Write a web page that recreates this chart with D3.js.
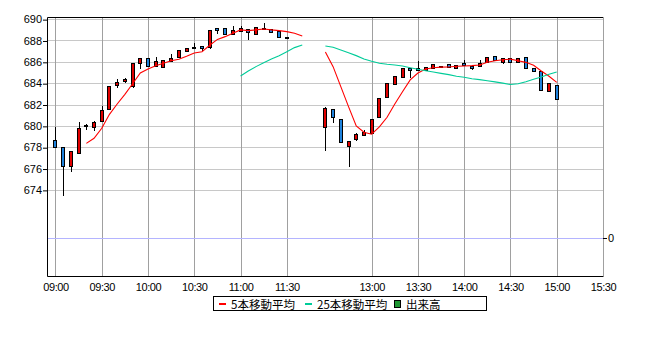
<!DOCTYPE html>
<html>
<head>
<meta charset="utf-8">
<script src="https://cdn.jsdelivr.net/npm/d3@7"></script>
<style>
    body { margin: 0; background: #fff; }
    svg { display: block; font-family: "Liberation Sans", Arial, sans-serif; }
    .legend text { font-family: "Noto Sans CJK JP", sans-serif; font-size: 11.5px; }
</style>
</head>
<body>
<div id="chart"></div>
<script>
// 5 minute bars (11:35 / 11:40 only carry the moving averages)
const times = [
    '09:00', '09:05', '09:10', '09:15', '09:20', '09:25', '09:30', '09:35', '09:40', '09:45', '09:50', '09:55',
    '10:00', '10:05', '10:10', '10:15', '10:20', '10:25', '10:30', '10:35', '10:40', '10:45', '10:50', '10:55',
    '11:00', '11:05', '11:10', '11:15', '11:20', '11:25', '11:30', '11:35', '11:40',
    '12:30', '12:35', '12:40', '12:45', '12:50', '12:55',
    '13:00', '13:05', '13:10', '13:15', '13:20', '13:25', '13:30', '13:35', '13:40', '13:45', '13:50', '13:55',
    '14:00', '14:05', '14:10', '14:15', '14:20', '14:25', '14:30', '14:35', '14:40', '14:45', '14:50', '14:55',
    '15:00'
]
const open = [
    678.65, 678.0, 676.25, 677.5, 679.95, 679.9, 680.5, 681.55, 683.8, 684.2, 683.75, 685.85,
    686.35, 685.65, 685.55, 686.05, 686.45, 687.0, 687.35, 687.45, 687.4, 689.15, 689.15, 688.6,
    688.9, 689.05, 688.6, 689.1, 689.05, 688.85, 688.3, null, null,
    679.85, 681.6, 680.65, 678.15, 678.75, 679.15,
    679.3, 680.85, 682.7, 683.95, 684.55, 685.4, 685.4, 685.2, 685.45, 685.65, 685.75, 685.45,
    685.9, 685.65, 685.6, 685.95, 686.5, 686.0, 686.4, 686.0, 686.45, 685.4, 685.15, 683.25,
    683.8
]
const high = [
    679.9, 678.0, 677.65, 680.35, 680.15, 680.5, 681.9, 683.7, 684.4, 684.45, 685.85, 686.4,
    686.35, 686.45, 686.2, 686.7, 687.1, 687.25, 687.75, 687.45, 689.0, 689.15, 689.15, 689.35,
    689.35, 689.05, 689.25, 689.65, 689.05, 688.85, 688.3, null, null,
    681.8, 681.6, 680.65, 678.55, 679.3, 679.6,
    680.65, 682.6, 684.0, 684.65, 685.4, 685.45, 686.1, 685.5, 685.8, 685.65, 685.75, 685.7,
    686.15, 685.65, 686.2, 686.45, 686.5, 686.4, 686.4, 686.4, 686.45, 685.4, 685.15, 684.0,
    683.8
]
const low = [
    678.0, 673.55, 675.8, 677.5, 679.7, 679.6, 680.5, 681.55, 683.65, 684.1, 683.6, 685.45,
    685.65, 685.65, 685.55, 686.05, 686.45, 687.0, 687.35, 687.15, 687.3, 688.7, 688.6, 688.6,
    688.9, 688.1, 688.6, 689.1, 688.8, 688.35, 688.3, null, null,
    677.7, 680.4, 678.5, 676.25, 678.65, 679.15,
    679.3, 680.85, 682.7, 683.9, 684.55, 684.6, 685.2, 685.2, 685.45, 685.5, 685.55, 685.45,
    685.7, 685.3, 685.6, 685.95, 686.15, 685.9, 686.0, 685.95, 685.4, 685.1, 683.35, 683.25,
    682.5
]
const close = [
    678.0, 676.25, 677.65, 679.8, 680.05, 680.4, 681.45, 683.7, 684.15, 684.35, 685.85, 686.35,
    685.65, 686.05, 686.2, 686.35, 687.1, 687.25, 687.4, 687.3, 689.0, 689.0, 688.6, 689.0,
    689.2, 688.8, 689.25, 689.15, 688.8, 688.35, 688.3, null, null,
    681.7, 680.85, 678.5, 678.55, 679.2, 679.4,
    680.65, 682.6, 684.0, 684.65, 685.4, 685.2, 685.2, 685.5, 685.8, 685.65, 685.55, 685.7,
    685.7, 685.45, 685.85, 686.45, 686.15, 686.4, 686.0, 686.4, 685.4, 685.1, 683.35, 684.0,
    682.5
]
const ma5 = [
    null, null, null, null, 678.36, 678.83, 679.77, 681.08, 682.05, 682.95, 683.95, 684.95,
    685.33, 685.64, 685.86, 686.1, 686.24, 686.52, 686.83, 686.95, 687.55, 688.1, 688.36, 688.68,
    688.99, 688.92, 688.99, 689.08, 688.99, 688.92, 688.83, 688.68, 688.42,
    686.92, 685.55, 683.68, 681.8, 680.0, 679.4,
    679.22, 679.9, 680.8, 682.05, 683.2, 684.3, 684.95, 685.33, 685.45, 685.5, 685.52, 685.58,
    685.61, 685.64, 685.7, 685.96, 686.1, 686.2, 686.25, 686.1, 685.95, 685.67, 685.14, 684.65,
    684.08
]
const ma25 = [
    null, null, null, null, null, null, null, null, null, null, null, null,
    null, null, null, null, null, null, null, null, null, null, null, null,
    684.67, 685.14, 685.55, 685.92, 686.27, 686.58, 686.95, 687.33, 687.58,
    687.49, 687.36, 687.11, 686.86, 686.58, 686.27,
    686.05, 685.86, 685.77, 685.7, 685.61, 685.45, 685.3, 685.17, 685.05, 684.92, 684.8, 684.65,
    684.55, 684.42, 684.33, 684.22, 684.12, 684.0, 683.87, 683.95, 684.14, 684.36, 684.58, 684.83,
    685.05
]
// no volume was traded in the bars shown
const volume = times.map(() => 0)

const priceTicks = [674, 676, 678, 680, 682, 684, 686, 688, 690]
const timeTicks = ['09:00', '09:30', '10:00', '10:30', '11:00', '11:30', '13:00', '13:30', '14:00', '14:30', '15:00', '15:30']

const upColor = '#e00000',
    downColor = '#1e82dc',
    ma5Color = '#ff0000',
    ma25Color = '#00cc99',
    volColor = '#1e9632'

// slot index on the time axis; the lunch break is squeezed to a few slots
function slotOf(t) {
    let [h, m] = t.split(':').map(Number)
    let mins = (h - 9) * 60 + m
    return mins >= 210 ? mins / 5 - 7 : mins / 5
}

function chart(selector) {
    let margin = { top: 17, left: 47, right: 47, bottom: 72 },
        width = 650,
        height = 348,
        plotRight = width - margin.right,
        plotBottom = height - margin.bottom

    let svg = d3.select(selector)
        .append('svg')
        .attr('width', width)
        .attr('height', height)

    let x = d3.scaleLinear()
        .domain([-1.1, 71])
        .range([margin.left, plotRight])
    let y = d3.scaleLinear()
        .domain([665.93, 690.2])
        .range([plotBottom, margin.top])
    let vol = d3.scaleLinear()
        .domain([0, 1])
        .range([238, 200])

    let px = v => Math.round(v) + 0.5

    // grid
    svg.append('g').selectAll('line')
        .data(priceTicks).enter()
        .append('line')
        .attr('x1', margin.left).attr('x2', plotRight)
        .attr('y1', d => px(y(d))).attr('y2', d => px(y(d)))
        .attr('stroke', '#c8c8c8')
    svg.append('g').selectAll('line')
        .data(timeTicks).enter()
        .append('line')
        .attr('x1', d => px(x(slotOf(d)))).attr('x2', d => px(x(slotOf(d))))
        .attr('y1', margin.top).attr('y2', plotBottom)
        .attr('stroke', '#a0a0a0')

    // volume zero line and right axis
    svg.append('line')
        .attr('x1', margin.left).attr('x2', plotRight + 4)
        .attr('y1', px(vol(0))).attr('y2', px(vol(0)))
        .attr('stroke', '#b4b4ff')
    svg.append('line')
        .attr('x1', plotRight).attr('x2', plotRight + 4)
        .attr('y1', px(vol(0))).attr('y2', px(vol(0)))
        .attr('stroke', '#000')
    svg.append('text')
        .attr('x', plotRight + 5)
        .attr('y', vol(0))
        .attr('dy', '0.35em')
        .attr('font-size', 11)
        .text('0')

    let bars = times.map((t, i) => ({
        s: slotOf(t), o: open[i], h: high[i], l: low[i], c: close[i], v: volume[i]
    })).filter(d => d.o != null)

    svg.append('g').selectAll('rect')
        .data(bars).enter()
        .append('rect')
        .attr('x', d => Math.round(x(d.s)) - 1)
        .attr('y', d => vol(d.v))
        .attr('width', 3)
        .attr('height', d => vol(0) - vol(d.v))
        .attr('fill', volColor)

    // candles
    let candle = svg.append('g')
        .attr('shape-rendering', 'crispEdges')
        .selectAll('g')
        .data(bars).enter()
        .append('g')
    candle.append('line')
        .attr('x1', d => px(x(d.s))).attr('x2', d => px(x(d.s)))
        .attr('y1', d => Math.round(y(d.h))).attr('y2', d => Math.round(y(d.l)) + 1)
        .attr('stroke', '#000')
    candle.append('rect')
        .attr('x', d => Math.round(x(d.s)) - 0.5)
        .attr('y', d => Math.round(y(Math.max(d.o, d.c))) + 0.5)
        .attr('width', 3)
        .attr('height', d => Math.max(1, Math.round(y(Math.min(d.o, d.c))) - Math.round(y(Math.max(d.o, d.c)))))
        .attr('fill', d => d.c >= d.o ? upColor : downColor)
        .attr('stroke', '#000')
        .attr('transform', 'translate(-1,0)')

    // moving averages, one path per session
    let line = d3.line()
        .defined(d => d.v != null)
        .x(d => x(d.s))
        .y(d => y(d.v))
    let sessions = [s => s < 33, s => s >= 33]
    ;[[ma5, ma5Color], [ma25, ma25Color]].forEach(([vals, color]) => {
        sessions.forEach(inSession => {
            let pts = times.map((t, i) => ({ s: slotOf(t), v: vals[i] })).filter(d => inSession(d.s))
            svg.append('path')
                .attr('d', line(pts))
                .attr('fill', 'none')
                .attr('stroke', color)
                .attr('stroke-width', 1.1)
        })
    })

    // axes
    let yAxis = svg.append('g')
        .attr('transform', `translate(${margin.left},0)`)
        .call(d3.axisLeft(y).tickValues(priceTicks).tickSize(4).tickPadding(1).tickFormat(d3.format('d')))
    yAxis.select('.domain').remove()
    yAxis.selectAll('text').attr('font-size', 11).attr('font-family', null)
    yAxis.selectAll('.tick line').attr('transform', 'translate(0,0.5)')

    let xAxis = svg.append('g')
        .attr('transform', `translate(0,${plotBottom})`)
        .call(d3.axisBottom(x).tickValues(timeTicks.map(slotOf)).tickSize(0).tickPadding(7)
            .tickFormat((d, i) => timeTicks[i]))
    xAxis.select('.domain').remove()
    xAxis.selectAll('text').attr('font-size', 11).attr('font-family', null).attr('letter-spacing', -0.4)

    // frame
    svg.append('path')
        .attr('d', `M${plotRight},${margin.top + 0.5}H${margin.left + 0.5}V${plotBottom + 0.5}H${plotRight + 0.5}`)
        .attr('fill', 'none')
        .attr('stroke', '#000')

    // legend
    let legend = svg.append('g').attr('class', 'legend')
    legend.append('rect')
        .attr('x', 213.5).attr('y', 296.5)
        .attr('width', 273).attr('height', 14)
        .attr('fill', '#fff').attr('stroke', '#000')
    let items = [
        { label: '5本移動平均', color: ma5Color, x: 219 },
        { label: '25本移動平均', color: ma25Color, x: 305 }
    ]
    items.forEach(d => {
        legend.append('line')
            .attr('x1', d.x).attr('x2', d.x + 7)
            .attr('y1', 304).attr('y2', 304)
            .attr('stroke', d.color).attr('stroke-width', 2)
        legend.append('text')
            .attr('x', d.x + 12).attr('y', 304)
            .attr('dominant-baseline', 'central')
            .text(d.label)
    })
    legend.append('rect')
        .attr('x', 394.5).attr('y', 300.5)
        .attr('width', 6).attr('height', 7)
        .attr('fill', volColor).attr('stroke', '#000')
    legend.append('text')
        .attr('x', 406).attr('y', 304)
        .attr('dominant-baseline', 'central')
        .text('出来高')

    return chart
}

chart('#chart')
</script>
</body>
</html>
